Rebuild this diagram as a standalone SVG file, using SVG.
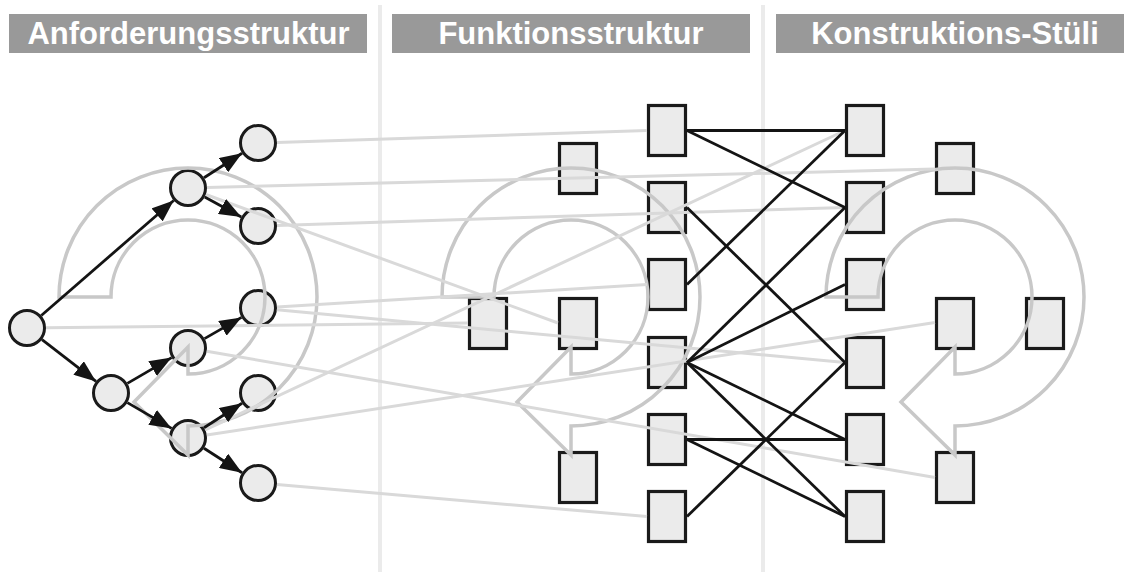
<svg xmlns="http://www.w3.org/2000/svg" width="1124" height="572" viewBox="0 0 1124 572">
<defs>
<style>
.hdr{fill:#999999}
.ht{font-family:"Liberation Sans",Arial,sans-serif;font-weight:bold;font-size:31px;fill:#ffffff;text-anchor:middle}
.sep{stroke:#ebebeb;stroke-width:4}
.c{fill:#ebebeb;stroke:#1a1a1a;stroke-width:3}
.b{fill:#ebebeb;stroke:#1a1a1a;stroke-width:3.2}
.loop{fill:none;stroke:#c8c8c8;stroke-width:3.5;stroke-linejoin:miter}
.g{stroke:#d9d9d9;stroke-width:3;fill:none}
.k{stroke:#141414;stroke-width:2.8;fill:none}
.ka{stroke:#141414;stroke-width:2.8;fill:none;marker-end:url(#ah)}
</style>
<marker id="ah" viewBox="0 0 22 17" refX="22" refY="8.5" markerWidth="22" markerHeight="17" markerUnits="userSpaceOnUse" orient="auto">
<path d="M0,0 L22,8.5 L0,17 Z" fill="#141414"/>
</marker>
</defs>
<rect width="1124" height="572" fill="#ffffff"/>

<g id="separators">
<line class="sep" x1="380" y1="5" x2="380" y2="572"/>
<line class="sep" x1="763" y1="5" x2="763" y2="572"/>
</g>

<g id="header-anforderung"><rect class="hdr" x="9" y="14" width="358" height="39"/><text class="ht" x="188.5" y="44">Anforderungsstruktur</text></g>
<g id="header-funktion"><rect class="hdr" x="392" y="14" width="358" height="39"/><text class="ht" x="571" y="44">Funktionsstruktur</text></g>
<g id="header-konstruktion"><rect class="hdr" x="776" y="14" width="358" height="39"/><text class="ht" x="955" y="44">Konstruktions-Stüli</text></g>

<g id="req-root"><circle class="c" cx="27" cy="328" r="17.5"/></g>
<g id="req-u"><circle class="c" cx="188" cy="188" r="17.5"/></g>
<g id="req-d"><circle class="c" cx="111" cy="393" r="17.5"/></g>
<g id="req-l1"><circle class="c" cx="258" cy="143" r="17.5"/></g>
<g id="req-l2"><circle class="c" cx="258" cy="226" r="17.5"/></g>
<g id="req-p"><circle class="c" cx="188" cy="348" r="17.5"/></g>
<g id="req-q"><circle class="c" cx="188" cy="438" r="17.5"/></g>
<g id="req-l3"><circle class="c" cx="258" cy="308" r="17.5"/></g>
<g id="req-l4"><circle class="c" cx="258" cy="393" r="17.5"/></g>
<g id="req-l5"><circle class="c" cx="258" cy="483" r="17.5"/></g>

<g id="fn-top"><rect class="b" x="559.5" y="143.5" width="37" height="50"/></g>
<g id="fn-left"><rect class="b" x="469.5" y="298.5" width="37" height="50"/></g>
<g id="fn-mid"><rect class="b" x="559.5" y="298.5" width="37" height="50"/></g>
<g id="fn-bot"><rect class="b" x="559.5" y="452.5" width="37" height="50"/></g>
<g id="fn-a1"><rect class="b" x="648.5" y="105.5" width="37" height="50"/></g>
<g id="fn-a2"><rect class="b" x="648.5" y="182.5" width="37" height="50"/></g>
<g id="fn-a3"><rect class="b" x="648.5" y="259.5" width="37" height="50"/></g>
<g id="fn-a4"><rect class="b" x="648.5" y="337.5" width="37" height="50"/></g>
<g id="fn-a5"><rect class="b" x="648.5" y="414.5" width="37" height="50"/></g>
<g id="fn-a6"><rect class="b" x="648.5" y="491.5" width="37" height="50"/></g>

<g id="ks-b1"><rect class="b" x="846.5" y="105.5" width="37" height="50"/></g>
<g id="ks-b2"><rect class="b" x="846.5" y="182.5" width="37" height="50"/></g>
<g id="ks-b3"><rect class="b" x="846.5" y="259.5" width="37" height="50"/></g>
<g id="ks-b4"><rect class="b" x="846.5" y="337.5" width="37" height="50"/></g>
<g id="ks-b5"><rect class="b" x="846.5" y="414.5" width="37" height="50"/></g>
<g id="ks-b6"><rect class="b" x="846.5" y="491.5" width="37" height="50"/></g>
<g id="ks-top"><rect class="b" x="936.5" y="143.5" width="37" height="50"/></g>
<g id="ks-mid"><rect class="b" x="936.5" y="298.5" width="37" height="50"/></g>
<g id="ks-far"><rect class="b" x="1026.5" y="298.5" width="37" height="50"/></g>
<g id="ks-bot"><rect class="b" x="936.5" y="452.5" width="37" height="50"/></g>

<g id="loops">
<path class="loop" d="M59 297 A129 129 0 1 1 188 426 L188 455 L134 402 L188 347 L188 374 A77 77 0 1 0 111 297 Z"/>
<path class="loop" d="M442 297 A129 129 0 1 1 571 426 L571 455 L517 402 L571 347 L571 374 A77 77 0 1 0 494 297 Z"/>
<path class="loop" d="M826 297 A129 129 0 1 1 955 426 L955 455 L901 402 L955 347 L955 374 A77 77 0 1 0 878 297 Z"/>
</g>

<g id="connectors">
<g id="trace-links">
<line class="g" x1="277" y1="142.4" x2="647" y2="130.5"/>
<line class="g" x1="207" y1="187.5" x2="935" y2="169"/>
<line class="g" x1="205.8" y1="194.5" x2="558" y2="323"/>
<line class="g" x1="277" y1="225.4" x2="845" y2="207.5"/>
<line class="g" x1="277" y1="306.9" x2="647" y2="284.5"/>
<line class="g" x1="276.9" y1="309.8" x2="845" y2="362.5"/>
<line class="g" x1="46" y1="327.8" x2="468" y2="323"/>
<line class="g" x1="205.2" y1="430" x2="845" y2="130.5"/>
<line class="g" x1="206.7" y1="351.2" x2="935" y2="477.5"/>
<line class="g" x1="206.8" y1="435.1" x2="935" y2="322.5"/>
<line class="g" x1="277" y1="484.6" x2="647" y2="516.5"/>
</g>
<g id="tree-arrows">
<line class="ka" x1="41.3" y1="315.5" x2="173.7" y2="200.5"/>
<line class="ka" x1="42" y1="339.6" x2="96" y2="381.4"/>
<line class="ka" x1="204" y1="177.7" x2="242" y2="153.3"/>
<line class="ka" x1="204.7" y1="197.1" x2="241.3" y2="216.9"/>
<line class="ka" x1="127.4" y1="383.4" x2="171.6" y2="357.6"/>
<line class="ka" x1="127.4" y1="402.6" x2="171.6" y2="428.4"/>
<line class="ka" x1="204.5" y1="338.6" x2="241.5" y2="317.4"/>
<line class="ka" x1="204" y1="427.7" x2="242" y2="403.3"/>
<line class="ka" x1="204" y1="448.3" x2="242" y2="472.7"/>
</g>
<g id="mapping-links">
<line class="k" x1="687" y1="130.5" x2="845" y2="130.5"/>
<line class="k" x1="687" y1="130.5" x2="845" y2="207.5"/>
<line class="k" x1="687" y1="284.5" x2="845" y2="130.5"/>
<line class="k" x1="687" y1="207.5" x2="845" y2="362.5"/>
<line class="k" x1="687" y1="362.5" x2="845" y2="207.5"/>
<line class="k" x1="687" y1="362.5" x2="845" y2="284.5"/>
<line class="k" x1="687" y1="362.5" x2="845" y2="439.5"/>
<line class="k" x1="687" y1="362.5" x2="845" y2="516.5"/>
<line class="k" x1="687" y1="439.5" x2="845" y2="439.5"/>
<line class="k" x1="687" y1="439.5" x2="845" y2="516.5"/>
<line class="k" x1="687" y1="516.5" x2="845" y2="362.5"/>
</g>
</g>
</svg>
